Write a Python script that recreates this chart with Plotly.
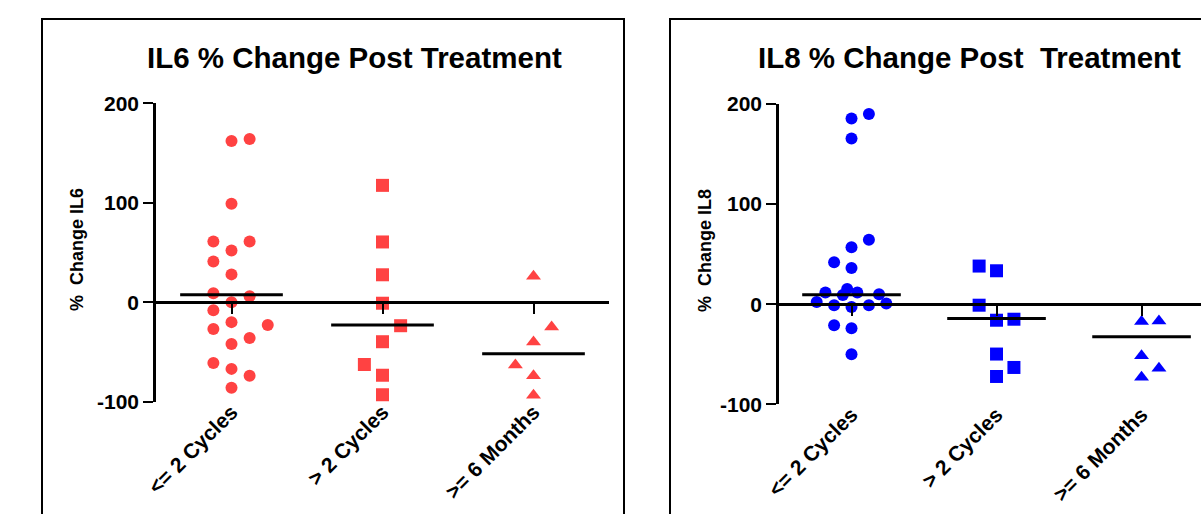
import plotly.graph_objects as go

W, H = 1201, 514
FONT = "Liberation Sans, Arial, sans-serif"
RED = "#FF4242"
BLUE = "#0000FF"

categories = ["<= 2 Cycles", "> 2 Cycles", ">= 6 Months"]
ytick_vals = [-100, 0, 100, 200]
ytick_text = ["-100", "0", "100", "200"]

# ---- IL6 (left panel) ----
il6_le2_values = [162, 164, 99, 61, 61, 52, 41, 28, 9, 6, 0, -8, -20, -23, -27, -36, -42, -61, -67, -74, -86]
il6_le2_jitter = [0, 0.12, 0, -0.12, 0.12, 0, -0.12, 0, -0.12, 0.12, 0, -0.12, 0, 0.24, -0.12, 0.12, 0, -0.12, 0, 0.12, 0]
il6_gt2_values = [117.5, 60.6, 27.6, -1, -23.6, -39.7, -62.6, -73.4, -93]
il6_gt2_jitter = [0, 0, 0, 0, 0.12, 0, -0.12, 0, 0]
il6_6m_values = [26, -25, -40, -63, -74, -93.5]
il6_6m_jitter = [0, 0.12, 0, -0.12, 0, 0]
il6_medians = [7.4, -22.9, -51.9]

# ---- IL8 (right panel) ----
il8_le2_values = [190, 185.6, 165.6, 64.5, 56.9, 41.8, 36.1, 11.6, 2.3, -1, 15.3, 9.3, 11.6, -2.7, -1, 10, 0.6, -21, -24, -50]
il8_le2_jitter = [0.12, 0, 0, 0.12, 0, -0.12, 0, -0.18, -0.24, -0.12, -0.03, -0.06, 0.04, 0, 0.12, 0.19, 0.24, -0.12, 0, 0]
il8_gt2_values = [38.1, 33.4, -1, -16, -15, -49.8, -63.2, -72.2]
il8_gt2_jitter = [-0.12, 0, -0.12, 0, 0.12, 0, 0.12, 0]
il8_6m_values = [-17.4, -16.7, -51.5, -64, -73]
il8_6m_jitter = [0, 0.12, 0, 0.12, 0]
il8_medians = [9.5, -14.4, -32.4]

MED_HALF = 0.34

panels = [
    dict(groups=[(il6_le2_values, il6_le2_jitter, "circle", 12),
                 (il6_gt2_values, il6_gt2_jitter, "square", 13),
                 (il6_6m_values, il6_6m_jitter, "triangle-up", 13)],
         medians=il6_medians, color=RED,
         xdom=[156 / W, 609 / W], xr=[-0.5, 2.5],
         ydom=[1 - 401.7 / H, 1 - 103.3 / H],
         title="IL6 % Change Post Treatment", tx=354, ytitle="%  Change IL6", ytx=77,
         box=[42, 624]),
    dict(groups=[(il8_le2_values, il8_le2_jitter, "circle", 12),
                 (il8_gt2_values, il8_gt2_jitter, "square", 13),
                 (il8_6m_values, il8_6m_jitter, "triangle-up", 13)],
         medians=il8_medians, color=BLUE,
         xdom=[779 / W, 1.0], xr=[-0.5, 2.41],
         ydom=[1 - 404.3 / H, 1 - 104 / H],
         title="IL8 % Change Post  Treatment", tx=969, ytitle="%  Change IL8", ytx=705,
         box=[670, 1260]),
]

fig = go.Figure()
layout = dict(width=W, height=H, margin=dict(l=0, r=0, t=0, b=0),
              paper_bgcolor="white", plot_bgcolor="white", showlegend=False,
              font=dict(family=FONT, color="black"))
annotations = []
shapes = []
yr = [-100, 200]

for i, p in enumerate(panels):
    xmain = "x" if i == 0 else "x3"
    xzero = "x2" if i == 0 else "x4"
    yname = "y" if i == 0 else "y2"
    for gi, (vals, jit, sym, sz) in enumerate(p["groups"]):
        fig.add_trace(go.Scatter(
            x=[gi + j for j in jit], y=vals, mode="markers",
            marker=dict(symbol=sym, size=sz, color=p["color"], line=dict(width=0)),
            cliponaxis=False, xaxis=xmain, yaxis=yname, hoverinfo="y"))
    for gi, m in enumerate(p["medians"]):
        fig.add_trace(go.Scatter(
            x=[gi - MED_HALF, gi + MED_HALF], y=[m, m], mode="lines",
            line=dict(color="black", width=3), cliponaxis=False,
            xaxis=xzero, yaxis=yname, hoverinfo="skip"))
    zero_pos = p["ydom"][0] + (0 - yr[0]) / (yr[1] - yr[0]) * (p["ydom"][1] - p["ydom"][0])
    kmain = "xaxis" if i == 0 else "xaxis3"
    kzero = "xaxis2" if i == 0 else "xaxis4"
    ky = "yaxis" if i == 0 else "yaxis2"
    layout[kmain] = dict(domain=p["xdom"], range=p["xr"], anchor=yname,
                         tickvals=[0, 1, 2], ticktext=categories, tickangle=-45,
                         ticks="", showline=False, showgrid=False, zeroline=False,
                         ticklabelstandoff=-7,
                         tickfont=dict(family=FONT, size=21, color="black", weight="bold"),
                         automargin=False, fixedrange=True)
    layout[kzero] = dict(domain=p["xdom"], range=p["xr"], overlaying=xmain,
                         anchor="free", position=zero_pos,
                         tickvals=[0, 1, 2], showticklabels=False,
                         ticks="outside", ticklen=10, tickwidth=2, tickcolor="black",
                         showline=True, linecolor="black", linewidth=2.5,
                         showgrid=False, zeroline=False, automargin=False, fixedrange=True)
    layout[ky] = dict(domain=p["ydom"], range=yr, anchor=xmain,
                      tickvals=ytick_vals, ticktext=ytick_text,
                      ticks="outside", ticklen=10, tickwidth=2,
                      tickcolor="black", showline=True, linecolor="black", linewidth=2.5,
                      showgrid=False, zeroline=False,
                      tickfont=dict(family=FONT, size=21, color="black", weight="bold"),
                      automargin=False, fixedrange=True)
    annotations.append(dict(text="<b>" + p["title"] + "</b>", x=p["tx"] / W, y=1 - 57 / H,
                            xref="paper", yref="paper", showarrow=False,
                            xanchor="center", yanchor="middle",
                            font=dict(family=FONT, size=29.5, color="black")))
    annotations.append(dict(text="<b>" + p["ytitle"] + "</b>", x=p["ytx"] / W, y=1 - 250 / H,
                            xref="paper", yref="paper", showarrow=False, textangle=-90,
                            xanchor="center", yanchor="middle",
                            font=dict(family=FONT, size=18, color="black")))
    shapes.append(dict(type="rect", xref="paper", yref="paper",
                       x0=p["box"][0] / W, x1=p["box"][1] / W,
                       y0=-0.2, y1=1 - 19 / H,
                       line=dict(color="black", width=2), fillcolor="rgba(0,0,0,0)"))

layout["annotations"] = annotations
layout["shapes"] = shapes
fig.update_layout(**layout)
fig.write_html("out.html", config={"displayModeBar": False},
               post_script="document.body.style.margin='0px';")
